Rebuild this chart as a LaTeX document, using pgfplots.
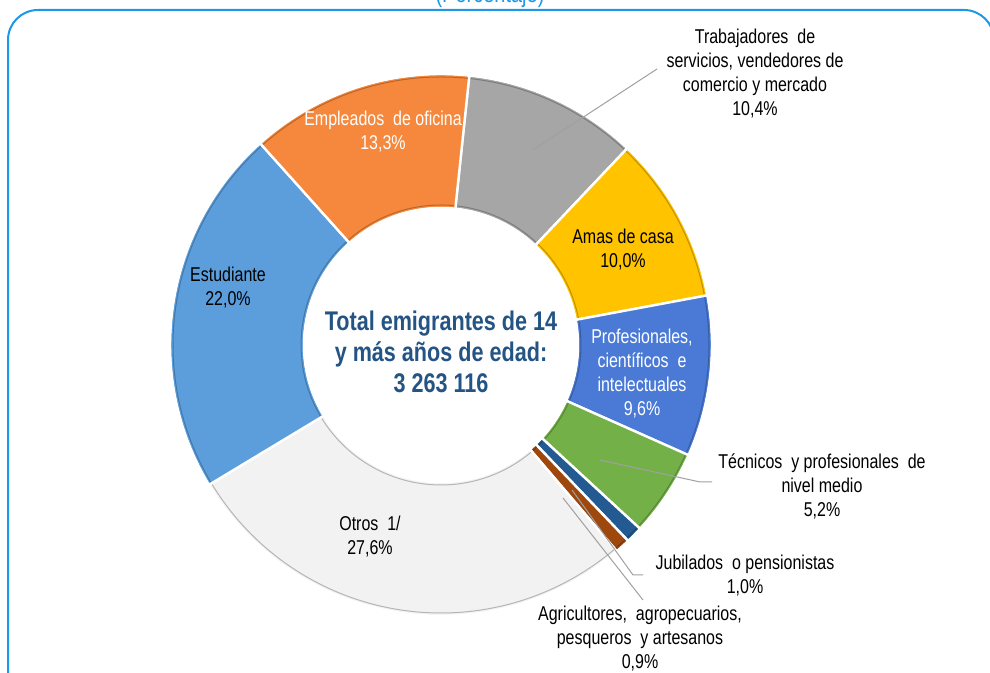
\documentclass[border=0pt]{standalone}
\usepackage{pgfplots}
\pgfplotsset{compat=1.18}
\usepackage{pgfplotstable}
\usepackage{fontspec}
\setmainfont{Liberation Sans}[FakeStretch=0.8]
\definecolor{cTrab}{RGB}{166,166,166}
\definecolor{cAmas}{RGB}{255,195,0}
\definecolor{cProf}{RGB}{74,122,214}
\definecolor{cTec}{RGB}{116,176,72}
\definecolor{cJub}{RGB}{34,90,145}
\definecolor{cAgr}{RGB}{158,72,14}
\definecolor{cOtros}{RGB}{242,242,242}
\definecolor{cEst}{RGB}{92,158,220}
\definecolor{cEmp}{RGB}{245,136,60}
\definecolor{frameblue}{RGB}{28,152,230}
\definecolor{centerblue}{RGB}{36,84,132}
\definecolor{leader}{RGB}{160,160,160}
\pgfplotstableread{
value col
10.4 cTrab
10.0 cAmas
9.6 cProf
5.2 cTec
1.0 cJub
0.9 cAgr
27.6 cOtros
22.0 cEst
13.3 cEmp
}\slices
\begin{document}
\begin{tikzpicture}
\begin{axis}[width=495pt,height=336.5pt,scale only axis,
  xmin=0,xmax=990,ymin=0,ymax=673,hide axis,clip=false]
\coordinate (SW) at (axis cs:0,0);
\coordinate (NE) at (axis cs:990,673);
% frame
\draw[frameblue,line width=1pt,rounded corners=15pt] (axis cs:8,-40) -- (axis cs:8,663) -- (axis cs:994,663) -- (axis cs:994,-40);
\node[frameblue,anchor=base,font=\fontsize{12.5}{14}\selectfont] at (axis cs:490,670) {(Porcentaje)};
% wedges
\pgfplotstablegetrowsof{\slices}
\pgfmathtruncatemacro\N{\pgfplotsretval-1}
\gdef\cur{84}
\pgfplotsforeachungrouped \i in {0,...,\N}{%
  \pgfplotstablegetelem{\i}{value}\of\slices \let\v\pgfplotsretval
  \pgfplotstablegetelem{\i}{col}\of\slices \let\c\pgfplotsretval
  \pgfmathsetmacro\nxt{\cur-3.6*\v}%
  \edef\temp{\noexpand\fill[\c, shift={(axis cs:441,328)}] (\cur:135pt) arc[start angle=\cur, end angle=\nxt, radius=135pt] -- (\nxt:69pt) arc[start angle=\nxt, end angle=\cur, radius=69pt] -- cycle;
  \noexpand\draw[\c!75!black, line width=0.5pt, shift={(axis cs:441,328)}] (\cur:134pt) arc[start angle=\cur, end angle=\nxt, radius=134pt] -- (\nxt:70pt) arc[start angle=\nxt, end angle=\cur, radius=70pt] -- cycle;
  \noexpand\draw[white, line width=1.2pt, shift={(axis cs:441,328)}] (\cur:135.5pt) arc[start angle=\cur, end angle=\nxt, radius=135.5pt] -- (\nxt:68.5pt) arc[start angle=\nxt, end angle=\cur, radius=68.5pt] -- cycle;}%
  \temp
  \global\let\cur\nxt
}
% leader lines
\draw[leader,line width=0.5pt] (axis cs:533,523) -- (axis cs:657,604);
\draw[leader,line width=0.5pt] (axis cs:600,213) -- (axis cs:700,191) -- (axis cs:712,191);
\draw[leader,line width=0.5pt] (axis cs:572,183) -- (axis cs:633,98) -- (axis cs:643,98);
\draw[leader,line width=0.5pt] (axis cs:563,175) -- (axis cs:643,73);
% labels
\begin{scope}[every node/.style={align=center,font=\fontsize{10}{12}\selectfont}]
\node at (axis cs:755,599) {Trabajadores\ \ de\\servicios,\ vendedores\ de\\comercio\ y\ mercado\\10,4\%};
\node[white] at (axis cs:383,541) {Empleados\ \ de\ oficina\\13,3\%};
\node at (axis cs:623,423) {Amas de casa\\10,0\%};
\node at (axis cs:228,385) {Estudiante\\22,0\%};
\node[white] at (axis cs:642,299) {Profesionales,\\cient\'ificos\ \ e\\intelectuales\\9,6\%};
\node at (axis cs:822,187) {T\'ecnicos\ \ y\ profesionales\ \ de\\nivel medio\\5,2\%};
\node at (axis cs:745,97) {Jubilados\ \ o\ pensionistas\\1,0\%};
\node at (axis cs:640,34) {Agricultores,\ \ agropecuarios,\\pesqueros\ \ y\ artesanos\\0,9\%};
\node at (axis cs:370,136) {Otros\ \ 1/\\27,6\%};
\end{scope}
\node[align=center,text=centerblue,font=\bfseries\fontsize{13.5}{15.5}\selectfont] at (axis cs:441,321) {Total emigrantes de 14\\y m\'as a\~nos de edad:\\3 263 116};
\end{axis}
\pgfresetboundingbox
\path[use as bounding box] (SW) rectangle (NE);
\end{tikzpicture}
\end{document}
